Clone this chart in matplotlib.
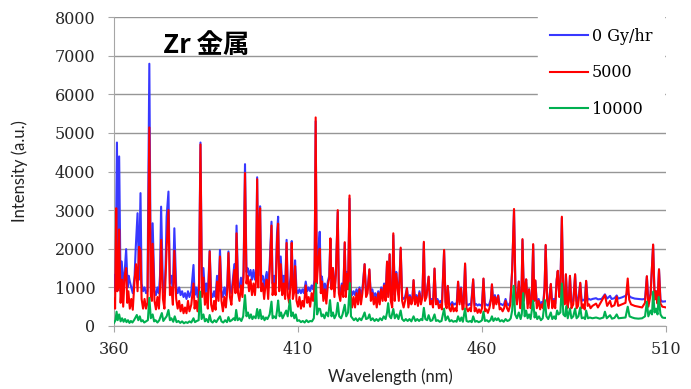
import matplotlib
matplotlib.use("Agg")
import matplotlib.pyplot as plt

# 0 Gy/hr
blue_wl = [360.0, 360.4, 360.8, 361.1, 361.4, 361.8, 362.1, 362.5, 362.9, 363.3, 363.7, 364.0, 364.3, 364.7, 365.1, 365.6, 365.9, 366.4, 366.8, 367.2,
           367.5, 367.9, 368.3, 368.7, 369.1, 369.6, 370.0, 370.3, 370.5, 371.0, 371.4, 371.8, 372.2, 372.5, 372.8, 373.3, 373.7, 374.0, 374.3, 374.8,
           375.2, 375.6, 376.0, 376.4, 376.9, 377.3, 377.7, 378.1, 378.5, 378.9, 379.3, 379.7, 380.1, 380.5, 381.0, 381.6, 381.9, 382.3, 382.7, 383.1,
           383.5, 383.9, 384.3, 384.7, 385.1, 385.5, 386.0, 386.4, 386.8, 387.2, 387.6, 388.0, 388.4, 388.8, 389.2, 389.6, 390.0, 390.4, 390.8, 391.1,
           391.5, 391.9, 392.3, 392.7, 393.0, 393.3, 393.7, 394.1, 394.5, 394.9, 395.2, 395.6, 396.0, 396.3, 396.7, 397.1, 397.5, 397.9, 398.3, 398.6,
           398.9, 399.2, 399.5, 399.7, 400.0, 400.4, 400.8, 401.1, 401.5, 401.9, 402.3, 402.6, 402.8, 403.1, 403.5, 403.9, 404.3, 404.6, 404.9, 405.3,
           405.7, 406.1, 406.5, 406.9, 407.2, 407.6, 408.0, 408.3, 408.6, 409.0, 409.2, 409.6, 410.0, 410.4, 410.8, 411.2, 411.6, 412.1, 412.5, 412.9,
           413.3, 413.7, 414.1, 414.5, 414.8, 415.1, 415.5, 415.9, 416.2, 416.5, 416.9, 417.3, 417.7, 418.1, 418.5, 418.8, 419.1, 419.5, 419.9, 420.3,
           420.8, 421.1, 421.5, 421.9, 422.3, 422.7, 423.0, 423.3, 423.6, 424.0, 424.3, 424.7, 425.1, 425.5, 425.9, 426.3, 426.7, 427.1, 427.5, 428.1,
           428.5, 428.9, 429.4, 429.8, 430.2, 430.6, 431.0, 431.4, 431.8, 432.2, 432.6, 433.0, 433.4, 433.8, 434.2, 434.5, 434.9, 435.2, 435.6, 435.9,
           436.3, 436.7, 437.0, 437.4, 437.9, 438.3, 438.7, 439.1, 439.6, 440.0, 440.4, 440.8, 441.1, 441.4, 441.8, 442.2, 442.6, 443.0, 443.4, 443.8,
           444.2, 444.5, 444.9, 445.5, 445.9, 446.3, 446.7, 447.1, 447.5, 447.9, 448.3, 448.7, 449.1, 449.7, 450.1, 450.4, 450.7, 451.1, 451.5, 451.9,
           452.3, 452.7, 453.1, 453.5, 453.9, 454.3, 454.7, 455.0, 455.4, 455.8, 456.2, 456.6, 457.0, 457.6, 458.0, 458.4, 458.8, 459.2, 459.6, 460.0,
           460.4, 460.8, 461.2, 461.6, 462.0, 462.4, 462.7, 463.1, 463.5, 463.9, 464.4, 464.8, 465.2, 465.6, 466.0, 466.4, 466.8, 467.2, 467.7, 468.2,
           468.7, 469.1, 469.5, 470.0, 470.4, 470.7, 471.0, 471.4, 471.7, 472.0, 472.4, 472.8, 473.2, 473.5, 473.9, 474.2, 474.5, 474.9, 475.4, 475.8,
           476.2, 476.6, 477.0, 477.3, 477.7, 478.1, 478.7, 479.1, 479.5, 479.9, 480.3, 480.6, 481.0, 481.3, 481.7, 482.1, 482.5, 482.8, 483.2, 483.6,
           483.9, 484.3, 484.8, 485.3, 485.7, 486.1, 486.7, 487.1, 487.5, 487.9, 488.3, 488.7, 489.1, 489.5, 490.0, 491.0, 491.5, 492.5, 493.4, 494.0,
           494.8, 495.2, 496.0, 496.6, 497.0, 498.0, 499.0, 499.6, 500.0, 500.5, 501.5, 502.5, 503.5, 504.3, 504.8, 505.2, 505.8, 506.5, 506.9, 507.3,
           507.7, 508.1, 508.5, 509.0, 510.0]
blue_int = [1320, 900, 4750, 1000, 4390, 900, 1670, 1100, 1400, 1990, 1000, 1300, 1150, 1000, 850, 1300, 2010, 2920, 1200, 3440,
            1100, 900, 1000, 850, 900, 6790, 1000, 900, 2660, 900, 800, 1000, 850, 1300, 3090, 1000, 850, 1500, 2830, 3480,
            1100, 1300, 900, 2530, 1000, 850, 1000, 800, 900, 750, 850, 700, 900, 750, 900, 1580, 800, 1000, 750, 1100,
            4750, 1000, 1500, 850, 1100, 800, 1950, 850, 750, 900, 750, 1300, 900, 1970, 900, 750, 1000, 800, 1100, 1930,
            1000, 850, 1200, 1600, 1100, 2600, 1100, 1000, 1250, 1000, 1400, 4190, 1400, 1500, 1300, 1450, 1200, 1450, 1200, 1400,
            3850, 1300, 2700, 3100, 1200, 1300, 1000, 1200, 1400, 1000, 1600, 2300, 2700, 1100, 1300, 1100, 2400, 2830, 1200, 1800,
            1100, 1300, 1000, 2230, 1100, 950, 1300, 2200, 1000, 1100, 1700, 950, 850, 950, 850, 950, 850, 1150, 900, 1000,
            900, 1050, 950, 1200, 5300, 1300, 1900, 2440, 1100, 1280, 900, 1100, 850, 1150, 1300, 2250, 1000, 1500, 900, 1400,
            2950, 950, 850, 1100, 900, 2150, 900, 1400, 1000, 3300, 950, 800, 900, 800, 950, 800, 1000, 800, 950, 1600,
            850, 950, 1450, 800, 950, 750, 850, 700, 900, 750, 1000, 800, 1100, 800, 1650, 850, 1850, 800, 700, 2350,
            800, 1400, 1100, 800, 2000, 750, 700, 750, 980, 650, 800, 650, 750, 1180, 650, 800, 650, 900, 650, 800,
            2150, 700, 800, 1270, 650, 700, 600, 1480, 620, 700, 600, 650, 580, 1950, 620, 580, 1030, 580, 550, 620,
            550, 580, 550, 1140, 620, 1000, 560, 580, 1600, 570, 540, 570, 540, 1200, 540, 570, 530, 560, 530, 570,
            1220, 540, 560, 530, 570, 700, 1070, 560, 800, 620, 800, 560, 570, 540, 570, 700, 570, 540, 620, 1450,
            3000, 900, 620, 1150, 570, 700, 2230, 700, 1000, 1200, 570, 950, 570, 620, 2100, 700, 1170, 570, 700, 560,
            620, 570, 1000, 2080, 700, 580, 1080, 580, 700, 580, 1200, 1420, 800, 1000, 2800, 700, 620, 1330, 600, 700,
            1290, 620, 650, 1330, 640, 650, 1110, 650, 680, 650, 1160, 680, 700, 680, 700, 720, 690, 700, 820, 710,
            780, 700, 720, 790, 710, 740, 780, 860, 780, 740, 710, 700, 690, 700, 1280, 700, 820, 2100, 750, 900,
            680, 1460, 680, 630, 640]

# 5000 Gy/hr
red_wl = [360.0, 360.3, 360.6, 360.9, 361.2, 361.4, 361.8, 362.2, 362.5, 362.9, 363.3, 363.6, 363.9, 364.3, 364.7, 365.1, 365.6, 366.0, 366.4, 366.8,
          367.2, 367.5, 367.9, 368.3, 368.7, 369.1, 369.6, 370.0, 370.3, 370.5, 371.0, 371.4, 371.8, 372.2, 372.5, 372.8, 373.3, 373.7, 374.0, 374.3,
          374.8, 375.2, 375.6, 376.0, 376.4, 376.9, 377.3, 377.7, 378.1, 378.5, 378.9, 379.3, 379.7, 380.1, 380.5, 381.0, 381.6, 381.9, 382.3, 382.7,
          383.1, 383.5, 383.9, 384.3, 384.7, 385.1, 385.5, 386.0, 386.4, 386.8, 387.2, 387.6, 388.0, 388.4, 388.8, 389.2, 389.6, 390.0, 390.4, 390.8,
          391.1, 391.5, 391.9, 392.3, 392.7, 393.0, 393.3, 393.7, 394.1, 394.5, 394.9, 395.2, 395.6, 396.0, 396.3, 396.7, 397.1, 397.5, 397.9, 398.3,
          398.6, 398.9, 399.2, 399.5, 399.7, 400.0, 400.4, 400.8, 401.1, 401.5, 401.9, 402.3, 402.6, 402.8, 403.1, 403.5, 403.9, 404.3, 404.6, 404.9,
          405.3, 405.7, 406.1, 406.5, 406.9, 407.2, 407.6, 408.0, 408.3, 408.6, 409.0, 409.2, 409.6, 410.0, 410.4, 410.8, 411.2, 411.6, 412.1, 412.5,
          412.9, 413.3, 413.7, 414.1, 414.5, 414.8, 415.1, 415.5, 415.9, 416.2, 416.5, 416.9, 417.3, 417.7, 418.1, 418.5, 418.8, 419.1, 419.5, 419.9,
          420.3, 420.8, 421.1, 421.5, 421.9, 422.3, 422.7, 423.0, 423.3, 423.6, 424.0, 424.3, 424.7, 425.1, 425.5, 425.9, 426.3, 426.7, 427.1, 427.5,
          428.1, 428.5, 428.9, 429.4, 429.8, 430.2, 430.6, 431.0, 431.4, 431.8, 432.2, 432.6, 433.0, 433.4, 433.8, 434.2, 434.5, 434.9, 435.2, 435.6,
          435.9, 436.3, 436.7, 437.0, 437.4, 437.9, 438.3, 438.7, 439.1, 439.6, 440.0, 440.4, 440.8, 441.1, 441.4, 441.8, 442.2, 442.6, 443.0, 443.4,
          443.8, 444.2, 444.5, 444.9, 445.5, 445.9, 446.3, 446.7, 447.1, 447.5, 447.9, 448.3, 448.7, 449.1, 449.7, 450.1, 450.4, 450.7, 451.1, 451.5,
          451.9, 452.3, 452.7, 453.1, 453.5, 453.9, 454.3, 454.7, 455.0, 455.4, 455.8, 456.2, 456.6, 457.0, 457.6, 458.0, 458.4, 458.8, 459.2, 459.6,
          460.0, 460.4, 460.8, 461.2, 461.6, 462.0, 462.4, 462.7, 463.1, 463.5, 463.9, 464.4, 464.8, 465.2, 465.6, 466.0, 466.4, 466.8, 467.2, 467.7,
          468.2, 468.7, 469.1, 469.5, 470.0, 470.4, 470.7, 471.0, 471.4, 471.7, 472.0, 472.4, 472.8, 473.2, 473.5, 473.9, 474.2, 474.5, 474.9, 475.4,
          475.8, 476.2, 476.6, 477.0, 477.3, 477.7, 478.1, 478.7, 479.1, 479.5, 479.9, 480.3, 480.6, 481.0, 481.3, 481.7, 482.1, 482.5, 482.8, 483.2,
          483.6, 483.9, 484.3, 484.8, 485.3, 485.7, 486.1, 486.7, 487.1, 487.5, 487.9, 488.3, 488.7, 489.1, 489.5, 490.0, 491.0, 491.5, 493.4, 494.0,
          494.8, 495.2, 496.0, 496.6, 497.0, 498.0, 499.0, 499.6, 500.0, 500.5, 501.5, 502.5, 503.5, 504.3, 504.8, 505.2, 505.8, 506.5, 506.9, 507.3,
          507.7, 508.1, 508.5, 509.0, 510.0]
red_int = [700, 450, 3050, 900, 1000, 2500, 600, 1200, 500, 1300, 1500, 600, 900, 450, 700, 420, 1200, 1600, 900, 2050,
           1950, 700, 450, 700, 450, 600, 5140, 800, 650, 2130, 650, 430, 750, 450, 950, 2230, 700, 450, 1200, 2000,
           3000, 800, 1000, 550, 1950, 700, 450, 650, 380, 550, 330, 480, 330, 650, 380, 550, 1100, 450, 650, 380,
           850, 4700, 750, 1250, 550, 850, 450, 1930, 550, 380, 650, 420, 1150, 650, 1800, 650, 380, 750, 480, 950,
           1890, 750, 550, 1050, 1450, 850, 2400, 850, 650, 1050, 750, 1250, 3960, 1100, 1300, 900, 1200, 800, 1100, 800,
           1200, 3800, 1000, 2500, 3050, 900, 1100, 700, 1000, 1200, 700, 1400, 2100, 2600, 800, 1100, 800, 2200, 2650, 900,
           1600, 800, 1100, 700, 2150, 800, 600, 1100, 2150, 700, 900, 1550, 650, 500, 750, 450, 650, 500, 1050, 600,
           750, 500, 850, 650, 1050, 5400, 1100, 1700, 2000, 850, 1150, 650, 950, 580, 1050, 1250, 2270, 950, 1500, 750,
           1350, 3000, 850, 650, 1050, 750, 2170, 750, 1350, 950, 3380, 850, 480, 750, 480, 850, 560, 950, 560, 850,
           1600, 750, 850, 1470, 650, 850, 560, 750, 480, 850, 560, 950, 650, 1050, 650, 1670, 750, 1860, 650, 480,
           2400, 650, 1350, 1050, 650, 2030, 650, 480, 650, 980, 480, 750, 560, 650, 1190, 560, 750, 520, 850, 560,
           750, 2180, 650, 750, 1280, 560, 650, 480, 1490, 560, 650, 460, 560, 430, 1970, 560, 460, 1040, 460, 380,
           560, 380, 460, 380, 1150, 560, 980, 430, 460, 1620, 460, 380, 460, 380, 1210, 380, 460, 340, 430, 340,
           460, 1230, 380, 430, 340, 460, 650, 1080, 460, 750, 560, 780, 430, 460, 380, 460, 650, 460, 380, 560,
           1450, 3030, 850, 560, 1150, 460, 650, 2250, 650, 950, 1210, 460, 950, 460, 560, 2120, 650, 1180, 460, 650,
           430, 560, 460, 950, 2100, 650, 460, 1090, 460, 650, 460, 1200, 1430, 750, 950, 2830, 650, 560, 1340, 460,
           650, 1300, 460, 560, 1340, 460, 520, 1120, 460, 560, 430, 1170, 520, 560, 460, 520, 580, 480, 800, 520,
           650, 500, 540, 760, 520, 560, 600, 1230, 680, 560, 520, 500, 480, 600, 1290, 500, 800, 2110, 680, 900,
           580, 1470, 580, 500, 480]

# 10000 Gy/hr
green_wl = [360.0, 360.4, 360.7, 361.0, 361.4, 361.8, 362.2, 362.6, 363.0, 363.4, 363.8, 364.2, 364.6, 365.0, 365.5, 366.2, 366.6, 367.0, 367.4, 367.8,
            368.2, 368.7, 369.2, 369.6, 370.0, 370.5, 370.9, 371.3, 371.8, 372.3, 373.0, 373.4, 373.9, 374.3, 374.8, 375.2, 375.6, 376.1, 376.5, 377.0,
            377.5, 378.0, 378.5, 379.0, 379.5, 380.0, 380.5, 381.0, 381.6, 382.0, 382.5, 383.0, 383.4, 383.8, 384.3, 384.7, 385.1, 385.6, 386.0, 386.4,
            386.8, 387.3, 387.8, 388.3, 388.8, 389.2, 389.7, 390.2, 390.7, 391.1, 391.5, 392.0, 392.5, 392.9, 393.2, 393.6, 394.1, 394.6, 395.1, 395.6,
            396.0, 396.4, 396.8, 397.2, 397.6, 398.0, 398.5, 398.9, 399.3, 399.7, 400.1, 400.5, 400.9, 401.3, 401.7, 402.3, 402.8, 403.1, 403.5, 404.0,
            404.3, 404.6, 405.0, 405.4, 405.8, 406.3, 406.8, 407.2, 407.8, 408.2, 408.6, 409.0, 409.4, 409.8, 410.3, 410.8, 411.3, 411.8, 412.3, 412.8,
            413.3, 413.8, 414.3, 414.9, 415.2, 415.6, 416.0, 416.4, 416.8, 417.2, 417.7, 418.2, 418.7, 419.1, 419.5, 419.9, 420.4, 420.8, 421.2, 421.7,
            422.1, 422.7, 423.1, 423.6, 424.1, 424.4, 424.8, 425.2, 425.7, 426.2, 426.7, 427.2, 427.7, 428.1, 428.5, 429.0, 429.4, 429.8, 430.3, 430.8,
            431.3, 431.8, 432.3, 432.8, 433.3, 433.8, 434.2, 434.5, 434.9, 435.3, 435.9, 436.3, 436.8, 437.3, 437.9, 438.3, 438.8, 439.3, 439.8, 440.3,
            440.8, 441.4, 441.9, 442.4, 442.9, 443.4, 443.8, 444.2, 444.6, 445.1, 445.5, 446.0, 446.5, 447.1, 447.5, 448.0, 448.5, 449.0, 449.7, 450.1,
            450.7, 451.2, 451.7, 452.2, 452.7, 453.1, 453.5, 454.0, 454.4, 454.8, 455.4, 455.8, 456.3, 456.8, 457.2, 457.6, 458.1, 458.6, 459.1, 459.6,
            460.0, 460.4, 460.8, 461.3, 461.8, 462.3, 462.7, 463.1, 463.6, 464.0, 464.4, 464.9, 465.4, 465.9, 466.4, 466.9, 467.4, 467.8, 468.2, 468.6,
            469.0, 469.5, 470.0, 470.5, 470.8, 471.2, 471.6, 472.0, 472.4, 472.8, 473.2, 473.9, 474.3, 474.6, 475.0, 475.5, 476.0, 476.5, 477.1, 477.5,
            478.0, 478.7, 479.1, 479.6, 480.0, 480.4, 480.8, 481.3, 481.7, 482.1, 482.6, 482.9, 483.3, 483.9, 484.3, 484.8, 485.3, 485.7, 486.2, 486.7,
            487.1, 487.6, 488.0, 488.3, 488.8, 489.3, 490.0, 491.0, 492.0, 493.0, 493.4, 493.9, 494.8, 495.3, 496.0, 496.6, 497.1, 498.0, 499.0, 499.6,
            500.1, 500.8, 501.5, 502.5, 503.5, 504.3, 504.8, 505.2, 505.8, 506.2, 506.5, 506.9, 507.3, 507.7, 508.0, 508.5, 509.0, 509.5, 510.0]
green_int = [80, 150, 370, 150, 300, 120, 200, 110, 180, 100, 150, 80, 130, 90, 160, 285, 150, 250, 120, 150,
             90, 120, 150, 730, 200, 300, 120, 150, 90, 150, 335, 130, 200, 250, 415, 150, 200, 110, 250, 100,
             130, 80, 120, 70, 100, 80, 120, 90, 200, 100, 130, 150, 890, 180, 300, 120, 180, 100, 285, 120,
             90, 150, 100, 180, 250, 120, 90, 150, 100, 230, 120, 150, 200, 150, 415, 150, 200, 130, 250, 800,
             250, 350, 200, 300, 180, 250, 200, 440, 200, 420, 180, 250, 150, 220, 180, 300, 630, 200, 250, 200,
             400, 660, 250, 350, 200, 300, 400, 250, 670, 250, 350, 200, 300, 130, 150, 100, 130, 90, 150, 100,
             130, 120, 200, 1100, 300, 450, 440, 250, 300, 200, 350, 250, 670, 250, 350, 200, 300, 600, 250, 200,
             300, 550, 250, 350, 1110, 250, 200, 150, 200, 130, 200, 150, 250, 350, 180, 200, 300, 150, 200, 130,
             180, 130, 200, 150, 250, 180, 350, 590, 250, 200, 440, 200, 300, 180, 400, 180, 130, 180, 130, 180,
             120, 250, 130, 180, 130, 180, 150, 470, 180, 150, 280, 130, 150, 300, 130, 150, 110, 130, 450, 150,
             250, 120, 150, 110, 130, 110, 250, 130, 220, 110, 450, 130, 110, 130, 100, 250, 110, 130, 100, 120,
             150, 370, 130, 150, 110, 150, 250, 130, 200, 150, 200, 120, 150, 110, 180, 130, 150, 200, 400, 1040,
             300, 200, 350, 180, 300, 850, 250, 400, 200, 300, 180, 650, 220, 350, 180, 250, 150, 200, 670, 250,
             180, 350, 180, 250, 180, 400, 300, 350, 1100, 300, 250, 510, 200, 450, 200, 250, 450, 200, 250, 480,
             200, 220, 180, 400, 200, 220, 200, 220, 190, 220, 370, 200, 280, 190, 210, 300, 200, 210, 220, 500,
             250, 220, 200, 190, 200, 250, 630, 250, 400, 300, 890, 350, 450, 300, 750, 300, 220, 210, 210]

series_labels = ["0 Gy/hr", "5000", "10000"]
y_ticks = [0, 1000, 2000, 3000, 4000, 5000, 6000, 7000, 8000]
x_ticks = [360, 410, 460, 510]

serif = "DejaVu Serif"
sans = "Lato"

fig = plt.figure(figsize=(6.91, 3.89), dpi=100)
ax = fig.add_axes([114 / 691, 1 - 326 / 389, 552 / 691, 309 / 389])

ax.plot(blue_wl, blue_int, color="#3838ff", lw=1.5, label=series_labels[0], zorder=3)
ax.plot(red_wl, red_int, color="#ff0000", lw=1.5, label=series_labels[1], zorder=4)
ax.plot(green_wl, green_int, color="#00b050", lw=1.5, label=series_labels[2], zorder=5)

ax.set_xlim(360, 510)
ax.set_ylim(0, 8000)
ax.set_xticks(x_ticks)
ax.set_yticks(y_ticks)
ax.yaxis.grid(True, color="#969696", lw=1)
ax.set_axisbelow(True)
for s in ["top", "right"]:
    ax.spines[s].set_visible(False)
for s in ["left", "bottom"]:
    ax.spines[s].set_color("#a6a6a6")
ax.tick_params(axis="both", colors="#a6a6a6", length=4.5, labelcolor="#262626", labelsize=11.5)
ax.tick_params(axis="x", pad=6)
ax.tick_params(axis="y", pad=9)
for lab in ax.get_xticklabels() + ax.get_yticklabels():
    lab.set_family(serif)

ax.set_xlabel("Wavelength (nm)", family=sans, fontsize=12, color="#222222", labelpad=8)
ax.set_ylabel("Intensity (a.u.)", family=sans, fontsize=12, color="#222222", labelpad=19)

ax.text(0.089, 0.908, "Zr 金属", transform=ax.transAxes, family=["Noto Sans CJK JP", "DejaVu Sans"],
        fontweight="bold", fontsize=19, va="center", ha="left", color="black", zorder=6)

leg = fig.legend(loc="upper left", bbox_to_anchor=(538 / 691, 1 - 16 / 389), frameon=True, fancybox=False,
                 facecolor="white", edgecolor="white", framealpha=1, borderaxespad=0, borderpad=0.75,
                 handlelength=2.35, handletextpad=0.25, labelspacing=1.22, prop={"family": serif, "size": 11.5})
leg.set_zorder(10)

fig.savefig("out.png", dpi=100)
